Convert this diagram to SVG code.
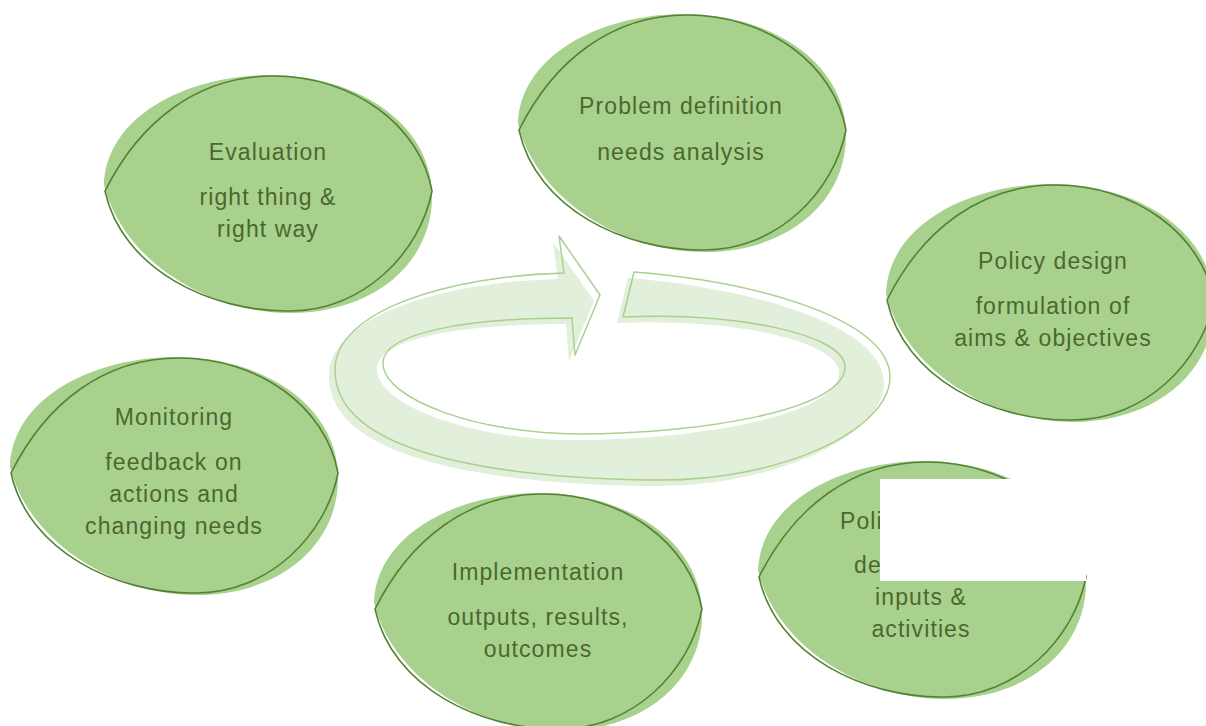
<svg xmlns="http://www.w3.org/2000/svg" width="1206" height="726" viewBox="0 0 1206 726">
<style>
.bf{fill:#a9d18e;stroke:none}
.bl{fill:none;stroke:#548235;stroke-width:1.6}
.t{font-family:"Liberation Sans",Arial,sans-serif;font-size:23px;letter-spacing:1.1px;fill:#4a682f;text-anchor:middle}
.ts{font-family:"Liberation Sans",Arial,sans-serif;font-size:23px;letter-spacing:1.1px;fill:#4a682f}
.af{fill:#e2efda;stroke:none}
.al{fill:none;stroke:#a9d18e;stroke-width:1.5;stroke-linejoin:round}
</style>
<defs>
<path id="blobFill" class="bf" d="M-164,-8 C-162,-75 -85,-117 0,-118 C85,-119 162,-72 164,0 C166,70 105,121 20,120 C-60,119 -145,68 -164,-8 Z"/>
<path id="blobLine" class="bl" d="M-163,-2 C-128,-72 -70,-117 5,-117 C85,-117 152,-68 164,-2 C152,60 95,118 22,118 C-58,119 -146,76 -163,-2 Z"/>
<path id="ring" d="M634,272 C760,282 890,320 890,377 C890,430 780,482 653,480 C520,478 335,460 335,370 C335,310 450,276 564,273 L559,236 L600,295 L575,355 L572,318 C470,318 383,332 383,363 C383,400 480,434 579,434 C700,434 845,410 845,367 C845,335 740,312 623,317 L629,293 Z"/>
</defs>
<rect width="1206" height="726" fill="#ffffff"/>
<g id="connectors">
<use href="#ring" class="af" transform="translate(-6,6)"/>
<use href="#ring" class="al"/>
</g>
<g id="evaluation">
<use href="#blobFill" transform="translate(268,193)"/>
<use href="#blobLine" transform="translate(268,193)"/>
<text class="t" x="268" y="160">Evaluation</text>
<text class="t" x="268" y="205">right thing &amp;</text>
<text class="t" x="268" y="237">right way</text>
</g>
<g id="problem-definition">
<use href="#blobFill" transform="translate(682,132)"/>
<use href="#blobLine" transform="translate(682,132)"/>
<text class="t" x="681" y="114">Problem definition</text>
<text class="t" x="681" y="160">needs analysis</text>
</g>
<g id="policy-design">
<use href="#blobFill" transform="translate(1050,302)"/>
<use href="#blobLine" transform="translate(1050,302)"/>
<text class="t" x="1053" y="269">Policy design</text>
<text class="t" x="1053" y="314">formulation of</text>
<text class="t" x="1053" y="346">aims &amp; objectives</text>
</g>
<g id="monitoring">
<use href="#blobFill" transform="translate(174,475)"/>
<use href="#blobLine" transform="translate(174,475)"/>
<text class="t" x="174" y="425">Monitoring</text>
<text class="t" x="174" y="470">feedback on</text>
<text class="t" x="174" y="502">actions and</text>
<text class="t" x="174" y="534">changing needs</text>
</g>
<g id="implementation">
<use href="#blobFill" transform="translate(538,611)"/>
<use href="#blobLine" transform="translate(538,611)"/>
<text class="t" x="538" y="580">Implementation</text>
<text class="t" x="538" y="625">outputs, results,</text>
<text class="t" x="538" y="657">outcomes</text>
</g>
<g id="policy-delivery">
<use href="#blobFill" transform="translate(922,579)"/>
<use href="#blobLine" transform="translate(922,579)"/>
<text class="ts" x="840" y="529">Poli</text>
<text class="ts" x="854" y="573">de</text>
<text class="t" x="921" y="605">inputs &amp;</text>
<text class="t" x="921" y="637">activities</text>
</g>
<rect id="mask" x="880" y="479" width="206" height="102" fill="#ffffff"/>
</svg>
